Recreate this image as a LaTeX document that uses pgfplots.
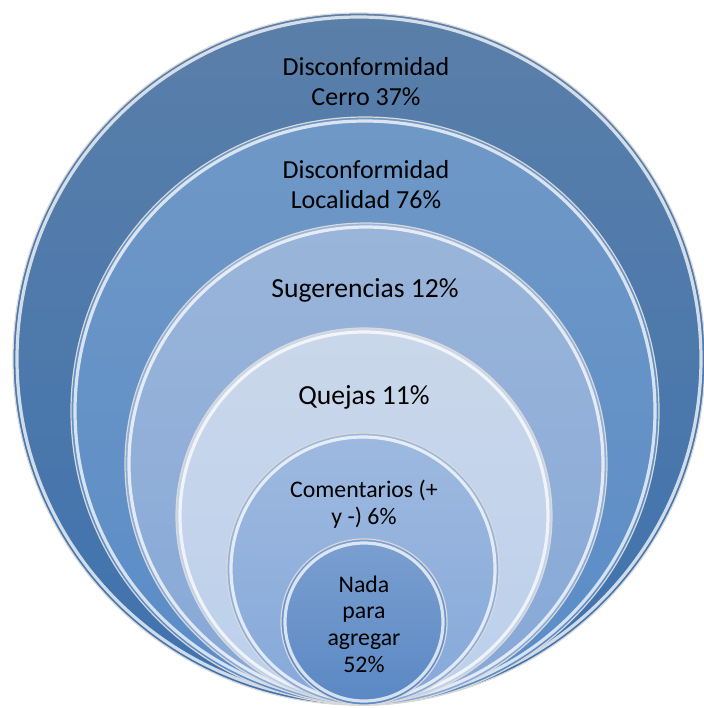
\documentclass[border=0pt]{standalone}
\usepackage{pgfplots}
\pgfplotsset{compat=1.18}
\usepackage{fontspec}
\setmainfont{Carlito}
\definecolor{cAt}{HTML}{5A7FA9}\definecolor{cAb}{HTML}{3F72AE}
\definecolor{cBt}{HTML}{6F98C6}\definecolor{cBb}{HTML}{5A8CC8}
\definecolor{cCt}{HTML}{9AB5D9}\definecolor{cCb}{HTML}{86A8D8}
\definecolor{cDt}{HTML}{CAD7EA}\definecolor{cDb}{HTML}{BCD0EC}
\definecolor{cEt}{HTML}{9DB9DF}\definecolor{cEb}{HTML}{86A9DA}
\definecolor{cFt}{HTML}{7B9FD0}\definecolor{cFb}{HTML}{5A88C4}
\newcommand{\ring}[5]{%
  \shade[top color=#4,bottom color=#5] (axis cs:#1,#2) circle [radius=#3];
  \draw[white!70!gray,line width=0.6pt] (axis cs:#1,#2) circle [radius=#3];
  \draw[white,opacity=0.75,line width=1.6pt] (axis cs:#1,#2) circle [radius=#3-4];
}
\begin{document}
\begin{tikzpicture}
\begin{axis}[
  hide axis, scale only axis,
  width=352pt, height=354pt,
  xmin=0, xmax=704, ymin=0, ymax=708,
  y dir=reverse,
  clip=true,
]
\addplot[draw=none, forget plot] coordinates {(0,0) (704,708)};
% x centre, y centre, radius (pixels of the 704x708 reference)
\ring{359}{359}{346}{cAt}{cAb}
\ring{365}{411}{294}{cBt}{cBb}
\ring{366}{464}{241}{cCt}{cCb}
\ring{364}{516}{188}{cDt}{cDb}
\ring{363}{569}{136}{cEt}{cEb}
\ring{364}{622}{83}{cFt}{cFb}
\node[align=center, font=\fontsize{13pt}{15pt}\selectfont, text=black]
  at (axis cs:366,82) {Disconformidad\\Cerro 37\%};
\node[align=center, font=\fontsize{13pt}{15pt}\selectfont, text=black]
  at (axis cs:366,185) {Disconformidad\\Localidad 76\%};
\node[font=\fontsize{13.8pt}{16pt}\selectfont, text=black]
  at (axis cs:365,290) {Sugerencias 12\%};
\node[font=\fontsize{13.8pt}{16pt}\selectfont, text=black]
  at (axis cs:364,397) {Quejas 11\%};
\node[align=center, font=\fontsize{11.9pt}{13.5pt}\selectfont, text=black]
  at (axis cs:364,504) {Comentarios (+\\y -) 6\%};
\node[align=center, font=\fontsize{11.9pt}{13.3pt}\selectfont, text=black]
  at (axis cs:364,624) {Nada\\para\\agregar\\52\%};
\end{axis}
\end{tikzpicture}
\end{document}
